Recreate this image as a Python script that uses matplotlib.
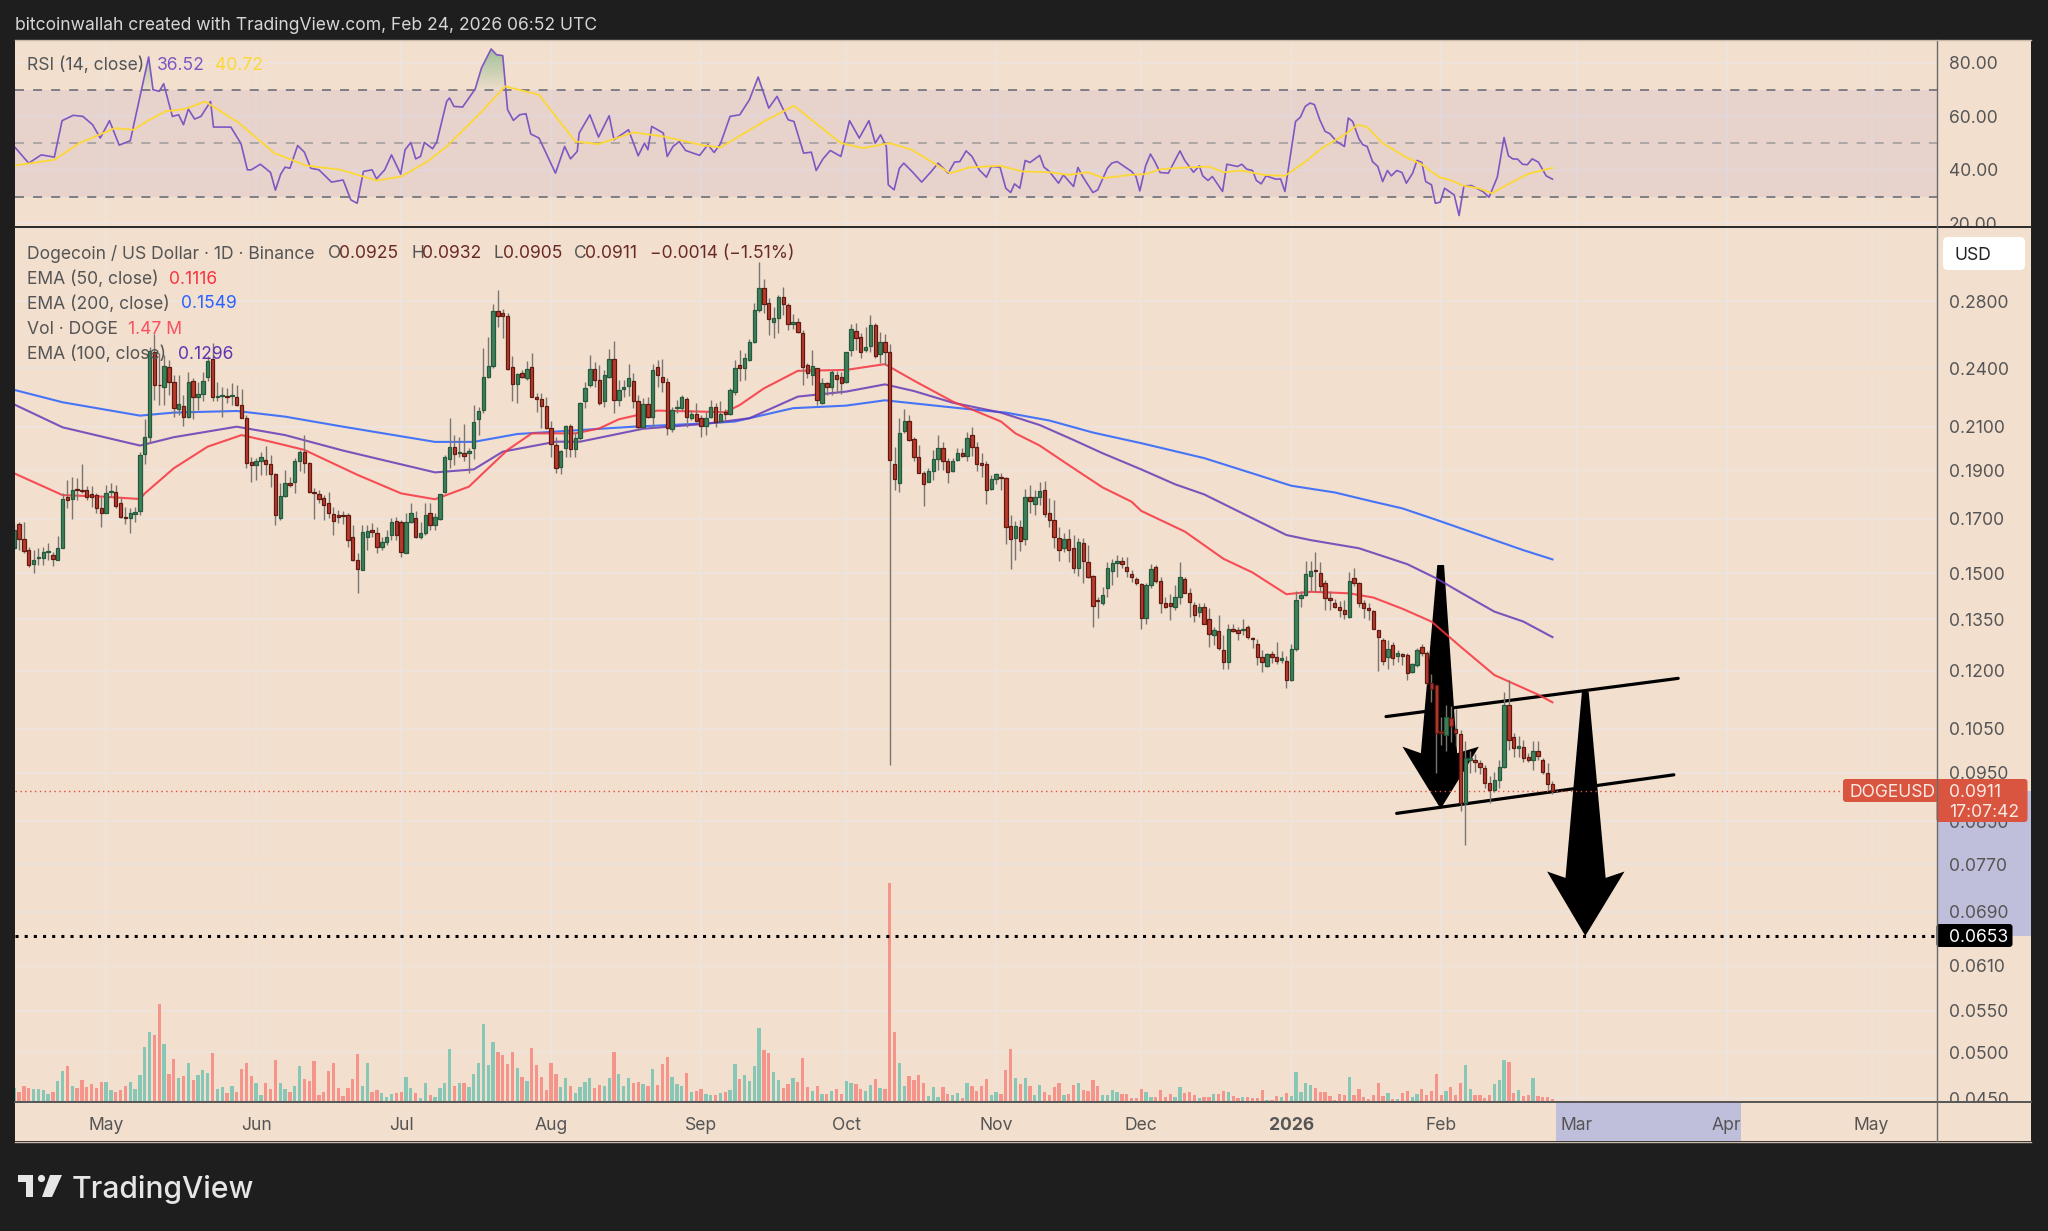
import matplotlib
matplotlib.use("Agg")
import numpy as np
from matplotlib import pyplot as plt
from matplotlib.path import Path
from matplotlib.patches import Rectangle, Polygon, FancyBboxPatch, Circle

W, H = 2048, 1231

# daily candles, index 0 = Apr 12 2025, index 318 = Feb 24 2026
opens = [
    .1589, .1680, .1622, .1582, .1532, .1553, .1555, .1574, .1563, .1548,
    .1591, .1786, .1778, .1818, .1814, .1815, .1798, .1794, .1741, .1724,
    .1809, .1807, .1764, .1708, .1702, .1717, .1729, .1971, .2052, .2495,
    .2313, .2298, .2408, .2325, .2189, .2201, .2146, .2333, .2247, .2264,
    .2352, .2454, .2247, .2252, .2254, .2252, .2249, .2205, .2140, .1935,
    .1923, .1943, .1946, .1926, .1884, .1704, .1793, .1847, .1849, .1939,
    .1982, .1932, .1809, .1799, .1782, .1761, .1718, .1715, .1715, .1715,
    .1632, .1547, .1512, .1632, .1657, .1644, .1595, .1613, .1638, .1692,
    .1689, .1573, .1689, .1702, .1632, .1644, .1721, .1676, .1699, .1809,
    .1949, .2006, .1976, .1976, .1975, .2001, .2136, .2181, .2356, .2413,
    .2740, .2724, .2707, .2408, .2318, .2374, .2347, .2408, .2250, .2236,
    .2201, .2092, .2014, .1913, .2000, .2103, .1997, .2045, .2230, .2309,
    .2396, .2338, .2228, .2352, .2451, .2233, .2287, .2307, .2334, .2225,
    .2097, .2212, .2149, .2407, .2354, .2325, .2087, .2191, .2191, .2236,
    .2144, .2164, .2140, .2105, .2149, .2196, .2126, .2174, .2161, .2276,
    .2417, .2405, .2447, .2552, .2745, .2885, .2787, .2673, .2695, .2826,
    .2774, .2660, .2672, .2606, .2417, .2362, .2400, .2219, .2320, .2302,
    .2363, .2352, .2329, .2501, .2614, .2578, .2505, .2529, .2654, .2482,
    .2553, .2492, .1926, .1847, .2079, .2130, .2043, .1959, .1890, .1851,
    .1895, .1952, .1999, .1939, .1898, .1946, .1976, .1964, .2058, .2006,
    .1931, .1926, .1820, .1861, .1872, .1865, .1671, .1625, .1667, .1624,
    .1786, .1757, .1788, .1817, .1721, .1695, .1628, .1591, .1622, .1589,
    .1519, .1609, .1541, .1491, .1411, .1400, .1452, .1509, .1537, .1544,
    .1523, .1499, .1480, .1465, .1353, .1460, .1521, .1474, .1400, .1400,
    .1390, .1422, .1480, .1433, .1395, .1374, .1388, .1350, .1302, .1315,
    .1258, .1223, .1319, .1316, .1317, .1326, .1293, .1275, .1238, .1213,
    .1246, .1238, .1230, .1228, .1174, .1262, .1418, .1426, .1491, .1511,
    .1500, .1466, .1419, .1400, .1390, .1380, .1358, .1485, .1466, .1403,
    .1384, .1377, .1316, .1286, .1237, .1274, .1242, .1245, .1245, .1195,
    .1216, .1266, .1249, .1166, .1160, .1044, .1036, .1077, .1050, .1038,
    .0885, .0978, .0978, .0972, .0960, .0928, .0913, .0934, .0963, .1110,
    .1030, .1005, .1007, .0985, .0978, .0998, .0978, .0949, .0925,
]
highs = [
    .1682, .1689, .1689, .1595, .1582, .1589, .1595, .1610, .1576, .1634,
    .1802, .1858, .1872, .1865, .1928, .1834, .1834, .1805, .1789, .1837,
    .1847, .1837, .1782, .1748, .1741, .1748, .1983, .2138, .2524, .2598,
    .2486, .2477, .2447, .2365, .2365, .2258, .2383, .2347, .2329, .2383,
    .2467, .2543, .2329, .2302, .2293, .2324, .2311, .2288, .2158, .1961,
    .1954, .1983, .2009, .1968, .1887, .1847, .1902, .1872, .1954, .1991,
    .2060, .1938, .1823, .1816, .1795, .1809, .1748, .1735, .1730, .1721,
    .1676, .1570, .1676, .1676, .1682, .1670, .1632, .1657, .1702, .1708,
    .1695, .1721, .1761, .1731, .1689, .1761, .1761, .1721, .1799, .1968,
    .2141, .2060, .2050, .2111, .1999, .2207, .2199, .2518, .2582, .2783,
    .2874, .2749, .2724, .2471, .2374, .2392, .2443, .2486, .2267, .2267,
    .2250, .2126, .2052, .1991, .2108, .2111, .2076, .2221, .2329, .2475,
    .2438, .2419, .2392, .2509, .2558, .2338, .2338, .2425, .2374, .2258,
    .2241, .2250, .2425, .2447, .2452, .2350, .2199, .2233, .2258, .2250,
    .2182, .2216, .2158, .2174, .2233, .2219, .2225, .2186, .2293, .2447,
    .2505, .2486, .2568, .2787, .3067, .2946, .2824, .2766, .2841, .2896,
    .2787, .2718, .2697, .2622, .2430, .2505, .2405, .2347, .2329, .2392,
    .2387, .2383, .2495, .2656, .2662, .2602, .2642, .2714, .2662, .2612,
    .2596, .2538, .2006, .2141, .2188, .2158, .2052, .2014, .1895, .1909,
    .1991, .2060, .2029, .1954, .1954, .1999, .1999, .2076, .2097, .2029,
    .1976, .1939, .1880, .1887, .1887, .1872, .1715, .1692, .1695, .1819,
    .1837, .1816, .1851, .1855, .1782, .1775, .1667, .1644, .1659, .1638,
    .1628, .1625, .1601, .1496, .1422, .1455, .1540, .1552, .1565, .1558,
    .1558, .1511, .1488, .1466, .1466, .1532, .1529, .1488, .1422, .1431,
    .1460, .1538, .1488, .1452, .1405, .1400, .1400, .1385, .1327, .1362,
    .1302, .1337, .1337, .1327, .1350, .1332, .1297, .1290, .1258, .1250,
    .1254, .1282, .1254, .1241, .1275, .1441, .1441, .1543, .1543, .1577,
    .1538, .1479, .1439, .1413, .1408, .1411, .1506, .1520, .1469, .1411,
    .1402, .1380, .1317, .1293, .1288, .1281, .1258, .1250, .1250, .1221,
    .1263, .1276, .1254, .1191, .1162, .1080, .1110, .1107, .1100, .1048,
    .1022, .0997, .0991, .0978, .0966, .0942, .0952, .0978, .1142, .1174,
    .1040, .1032, .1024, .0993, .1022, .1021, .0982, .0970, .0932,
]
lows = [
    .1582, .1582, .1570, .1523, .1500, .1529, .1529, .1547, .1525, .1545,
    .1589, .1744, .1699, .1775, .1802, .1775, .1748, .1721, .1667, .1721,
    .1789, .1741, .1702, .1680, .1644, .1689, .1715, .1926, .2021, .2233,
    .2207, .2207, .2258, .2146, .2158, .2105, .2141, .2138, .2183, .2225,
    .2334, .2225, .2225, .2146, .2216, .2207, .2203, .2140, .1909, .1851,
    .1858, .1880, .1880, .1830, .1676, .1695, .1789, .1830, .1802, .1895,
    .1887, .1802, .1699, .1761, .1695, .1702, .1638, .1682, .1680, .1595,
    .1544, .1433, .1510, .1582, .1632, .1570, .1582, .1601, .1619, .1619,
    .1559, .1570, .1682, .1626, .1622, .1638, .1657, .1657, .1695, .1802,
    .1912, .1923, .1961, .1943, .1887, .1949, .2060, .2169, .2347, .2400,
    .2642, .2576, .2392, .2225, .2216, .2347, .2338, .2247, .2174, .2092,
    .2087, .1961, .1887, .1884, .1961, .1961, .1961, .2037, .2191, .2302,
    .2302, .2207, .2196, .2347, .2166, .2203, .2250, .2254, .2191, .2084,
    .2092, .2141, .2092, .2302, .2276, .2060, .2076, .2166, .2182, .2100,
    .2133, .2125, .2050, .2060, .2141, .2100, .2118, .2126, .2158, .2258,
    .2333, .2338, .2441, .2543, .2730, .2724, .2594, .2576, .2606, .2714,
    .2622, .2628, .2602, .2311, .2347, .2311, .2207, .2212, .2258, .2258,
    .2276, .2262, .2320, .2467, .2505, .2457, .2495, .2495, .2457, .2430,
    .2419, .0966, .1816, .1809, .2068, .2034, .1940, .1887, .1752, .1848,
    .1858, .1902, .1902, .1847, .1893, .1939, .1958, .1943, .1964, .1898,
    .1870, .1757, .1816, .1841, .1816, .1605, .1515, .1547, .1580, .1601,
    .1721, .1715, .1755, .1708, .1670, .1589, .1544, .1576, .1540, .1502,
    .1491, .1466, .1483, .1327, .1353, .1395, .1422, .1460, .1486, .1517,
    .1486, .1471, .1460, .1319, .1337, .1452, .1466, .1369, .1385, .1348,
    .1380, .1397, .1433, .1358, .1343, .1358, .1335, .1268, .1273, .1258,
    .1204, .1204, .1312, .1286, .1302, .1291, .1265, .1216, .1197, .1209,
    .1221, .1219, .1221, .1154, .1172, .1254, .1388, .1424, .1441, .1436,
    .1436, .1378, .1380, .1385, .1356, .1350, .1355, .1457, .1390, .1353,
    .1348, .1319, .1200, .1216, .1204, .1216, .1225, .1216, .1174, .1193,
    .1211, .1241, .1164, .1118, .0949, .1013, .0997, .1019, .1010, .0869,
    .0805, .0949, .0952, .0947, .0916, .0886, .0909, .0916, .0960, .1001,
    .0985, .0985, .0974, .0974, .0956, .0978, .0946, .0912, .0905,
]
closes = [
    .1657, .1622, .1580, .1529, .1547, .1556, .1576, .1577, .1551, .1590,
    .1780, .1775, .1815, .1815, .1812, .1788, .1786, .1744, .1724, .1802,
    .1812, .1752, .1708, .1705, .1721, .1728, .1970, .2051, .2496, .2311,
    .2309, .2412, .2325, .2191, .2211, .2146, .2329, .2247, .2262, .2333,
    .2440, .2250, .2250, .2256, .2250, .2260, .2208, .2141, .1934, .1923,
    .1943, .1958, .1926, .1885, .1716, .1793, .1845, .1837, .1940, .1982,
    .1934, .1809, .1803, .1779, .1753, .1721, .1692, .1708, .1712, .1619,
    .1547, .1514, .1650, .1654, .1651, .1595, .1613, .1632, .1689, .1638,
    .1574, .1686, .1721, .1632, .1644, .1715, .1676, .1708, .1799, .1961,
    .2006, .1972, .1980, .1964, .1985, .2122, .2179, .2356, .2412, .2740,
    .2709, .2709, .2396, .2318, .2372, .2356, .2396, .2250, .2240, .2204,
    .2094, .2017, .1912, .1985, .2105, .1997, .2045, .2216, .2297, .2398,
    .2338, .2219, .2365, .2451, .2233, .2285, .2299, .2347, .2230, .2097,
    .2212, .2149, .2392, .2365, .2325, .2094, .2182, .2196, .2247, .2149,
    .2161, .2130, .2103, .2141, .2197, .2122, .2164, .2161, .2285, .2405,
    .2405, .2457, .2548, .2745, .2885, .2780, .2687, .2692, .2826, .2783,
    .2658, .2672, .2612, .2410, .2374, .2413, .2233, .2323, .2302, .2378,
    .2342, .2323, .2490, .2628, .2576, .2495, .2520, .2654, .2467, .2551,
    .2493, .1945, .1862, .2071, .2130, .2039, .1961, .1890, .1840, .1895,
    .1952, .2000, .1939, .1893, .1943, .1976, .1964, .2047, .2006, .1926,
    .1925, .1816, .1861, .1883, .1868, .1670, .1624, .1671, .1617, .1786,
    .1769, .1786, .1812, .1718, .1696, .1632, .1584, .1622, .1582, .1519,
    .1613, .1543, .1486, .1393, .1408, .1428, .1517, .1537, .1544, .1532,
    .1509, .1488, .1466, .1355, .1460, .1514, .1474, .1400, .1390, .1392,
    .1422, .1486, .1435, .1405, .1364, .1388, .1337, .1304, .1317, .1263,
    .1223, .1319, .1315, .1309, .1319, .1295, .1290, .1238, .1224, .1246,
    .1238, .1228, .1233, .1174, .1260, .1411, .1426, .1497, .1509, .1508,
    .1458, .1419, .1412, .1390, .1380, .1365, .1475, .1466, .1403, .1384,
    .1378, .1320, .1295, .1228, .1260, .1234, .1250, .1242, .1193, .1219,
    .1258, .1249, .1166, .1150, .1040, .1041, .1078, .1058, .1040, .0885,
    .0982, .0981, .0974, .0961, .0928, .0912, .0934, .0963, .1110, .1024,
    .1005, .1007, .0983, .0978, .0997, .0987, .0952, .0925, .0911,
]
volumes = [
    40, 27, 44, 39, 35, 36, 32, 21, 28, 60, 90, 105, 44, 39, 63, 42, 51, 39, 57, 57,
    33, 28, 33, 45, 57, 35, 78, 162, 206, 198, 292, 170, 81, 126, 69, 75, 114, 63, 78, 93,
    84, 144, 36, 42, 24, 45, 27, 96, 113, 75, 54, 18, 53, 36, 123, 53, 35, 27, 44, 104,
    66, 61, 120, 18, 27, 90, 113, 39, 16, 39, 66, 141, 45, 113, 27, 33, 24, 11, 21, 24,
    28, 72, 39, 24, 9, 54, 18, 12, 39, 54, 155, 45, 54, 54, 42, 81, 114, 230, 108, 177,
    147, 138, 111, 146, 99, 72, 60, 158, 108, 71, 33, 114, 81, 42, 69, 45, 24, 42, 57, 69,
    39, 48, 45, 69, 146, 81, 45, 69, 54, 57, 51, 44, 96, 48, 112, 132, 72, 51, 44, 84,
    28, 29, 36, 21, 17, 18, 24, 26, 33, 110, 66, 78, 60, 104, 218, 153, 144, 87, 63, 39,
    51, 69, 57, 130, 42, 30, 45, 21, 21, 30, 36, 21, 59, 54, 51, 36, 30, 48, 66, 39,
    35, 654, 207, 113, 44, 75, 63, 79, 53, 15, 42, 12, 42, 21, 17, 24, 9, 54, 45, 30,
    45, 66, 18, 26, 20, 93, 156, 69, 51, 69, 44, 18, 47, 27, 17, 42, 53, 18, 22, 48,
    53, 33, 30, 63, 45, 17, 18, 33, 27, 21, 21, 10, 9, 35, 27, 12, 11, 33, 12, 21,
    12, 42, 24, 27, 18, 9, 11, 12, 21, 21, 29, 27, 15, 9, 12, 11, 9, 10, 33, 3,
    3, 15, 11, 24, 15, 86, 28, 54, 48, 39, 27, 27, 15, 3, 21, 17, 71, 19, 35, 12,
    6, 18, 54, 15, 24, 6, 6, 24, 29, 12, 21, 36, 18, 30, 80, 18, 30, 42, 18, 55,
    108, 37, 18, 18, 9, 19, 51, 63, 123, 117, 24, 33, 15, 18, 69, 15, 11, 12, 6,
]

# moving averages read at their bends
ema50_days = [0, 10, 18, 26, 27, 33, 40, 47, 53, 60, 71, 80, 87, 94, 98, 102, 107, 116, 121, 125, 133,
              147, 150, 155, 162, 172, 180, 186, 194, 204, 207, 212, 219, 225, 231, 233, 242, 250, 256,
              263, 268, 276, 281, 287, 293, 299, 306, 315, 318]
ema50_vals = [.1887, .1795, .1789, .1779, .1802, .1909, .2006, .2060, .2029, .1991, .1880, .1802, .1778,
              .1830, .1909, .1991, .2068, .2068, .2092, .2136, .2179, .2171, .2207, .2293, .2387, .2392,
              .2424, .2334, .2225, .2125, .2068, .2011, .1909, .1827, .1768, .1731, .1651, .1551, .1503,
              .1430, .1438, .1433, .1419, .1383, .1343, .1268, .1188, .1136, .1116]
ema100_days = [0, 10, 26, 33, 46, 56, 68, 87, 95, 101, 112, 117, 130, 143, 152, 162, 172, 180, 186, 194,
               204, 212, 219, 225, 233, 240, 246, 256, 263, 268, 278, 288, 294, 299, 306, 312, 318]
ema100_vals = [.2210, .2097, .2011, .2050, .2100, .2060, .1988, .1891, .1904, .1983, .2029, .2029, .2090,
               .2114, .2141, .2250, .2276, .2314, .2279, .2219, .2169, .2108, .2037, .1976, .1904, .1840,
               .1798, .1702, .1638, .1619, .1589, .1532, .1483, .1436, .1374, .1343, .1296]
ema200_days = [0, 10, 26, 33, 46, 56, 68, 87, 95, 104, 128, 143, 149, 161, 172, 180, 197, 205, 214, 223,
               233, 246, 257, 264, 273, 281, 287, 294, 312, 318]
ema200_vals = [.2285, .2221, .2154, .2169, .2177, .2149, .2100, .2028, .2028, .2065, .2100, .2116, .2125,
               .2191, .2204, .2231, .2187, .2169, .2130, .2072, .2022, .1954, .1880, .1834, .1806, .1768,
               .1741, .1696, .1582, .1549]

rsi_days = [0, 3, 5.6, 8.3, 9.9, 12.2, 14.2, 16.2, 17.8, 19.7, 21.7, 24, 26, 27.8, 28.7, 30, 30.9, 32.7, 34,
            35, 36, 37.3, 38.6, 40.6, 41.2, 44.8, 46.9, 48.2, 49, 50.9, 53, 54, 55.1, 56, 57, 58.6, 60,
            61.3, 63, 65.6, 68, 69.6, 70.9, 72.2, 74, 74.9, 76.6, 78, 79.9, 80.8, 82, 83, 84, 84.8, 86.5,
            87.4, 89.4, 90, 90.9, 92.7, 95.3, 96.6, 98.6, 99.7, 101, 102, 103.2, 104.5, 105.8, 106.8,
            108.5, 109.8, 111.9, 113.8, 115, 116.4, 116.8, 119, 120.8, 123, 124, 127, 129, 130.3, 131,
            131.8, 134.2, 135, 136.2, 137.5, 138.8, 141.7, 143.4, 144.7, 146, 148, 150, 152, 153.8, 156,
            157.7, 160, 161.2, 163.2, 164.8, 165.8, 167.2, 168.7, 170.9, 172.7, 174.7, 176.7, 178, 179.1,
            180.3, 180.7, 181.9, 183, 183.9, 185.6, 187.6, 189.6, 191, 193.1, 194.4, 195.5, 196.8, 198,
            199.5, 201, 202, 203.8, 205, 206, 206.8, 207.9, 209, 210, 212, 212.9, 214, 215.9, 216.9, 219,
            219.9, 220.8, 223, 224, 226, 226.9, 228, 231, 231.9, 232.7, 233.9, 234.9, 235.8, 236.9, 238.6,
            241, 242, 243.8, 245, 245.7, 246.8, 247.7, 249.8, 250.7, 252.9, 253.8, 254.8, 256, 256.8,
            257.8, 258.8, 260.8, 261.8, 262.7, 264, 264.9, 265.9, 266.9, 267.9, 268.8, 269.9, 271, 272,
            273.4, 275, 275.8, 276.7, 278, 278.8, 279.7, 280.8, 281.9, 282.9, 283.9, 284.7, 285.8, 286.9,
            287.8, 289.1, 290, 291, 291.8, 293, 293.8, 294.8, 295.7, 297.7, 298.7, 299.7, 301.3, 303.6,
            304.9, 306.6, 308, 308.9, 309.8, 310.8, 311.8, 312.8, 313.8, 315.1, 316.7, 318]
rsi_vals = [48.75, 42.5, 45.6, 44.75, 58.4, 60.4, 60, 56.9, 51.9, 58.4, 49.25, 50.9, 67.5, 82.25, 70, 69.4,
            72.25, 60, 60.6, 56.9, 62.75, 59, 60, 65.6, 56, 56, 49.75, 40, 40, 42.1, 39, 32.4, 38.4, 41,
            40.6, 49.1, 46.6, 40.6, 40, 35.4, 36.2, 28.75, 27.5, 39.4, 40, 36.6, 40, 45.6, 38.4, 47.5,
            50.25, 44.1, 45, 50.25, 47.9, 50.6, 65.6, 66.9, 63.75, 63.5, 70.25, 78.1, 85.25, 83.1, 82.75,
            62.5, 58.5, 60.6, 61, 53.4, 51.9, 46.9, 38.75, 48.75, 44.1, 46.9, 53.75, 60.6, 52.25, 60.25,
            51.25, 55, 45.25, 50, 47.5, 56.25, 53.75, 45, 48.75, 50.6, 47.25, 45.4, 49.4, 46.5, 49.75, 60,
            60.6, 66.25, 74.75, 63.1, 67.5, 58.75, 58.1, 46.25, 46.6, 39.75, 44.1, 47.25, 45, 58.4, 51.9,
            58.4, 50, 53.1, 48.75, 34.4, 32.5, 40.6, 42.5, 39.4, 35.4, 39.4, 42.5, 38.75, 42.9, 43.1, 47.1,
            45, 40, 37.25, 41.25, 41, 33.1, 31.5, 34.75, 33.1, 43.5, 42.75, 45.4, 41, 39.4, 35, 38.1, 33.75,
            40.9, 37.75, 31.5, 32.5, 40.6, 42.5, 43.1, 39.4, 37.5, 32.1, 41.5, 45.9, 43.1, 39, 38.75, 47.1,
            43.5, 39.1, 41.5, 37.75, 36, 37.5, 31.9, 42.1, 41.25, 42.1, 40.25, 39.75, 36, 34.75, 37.75,
            36.5, 36.6, 31.9, 47.5, 58.1, 59.75, 63.75, 65, 64.4, 58.75, 54.4, 53.5, 50.6, 48.75, 59.4,
            58.1, 51.6, 49.4, 48.75, 43.1, 41.25, 35.6, 39.75, 37.75, 39.75, 39, 35, 38.75, 43.5, 42.75,
            35.6, 34.4, 27.5, 27.9, 33.1, 30.6, 22.9, 34, 34.1, 31.9, 29.75, 37.25, 52.1, 45.25, 44.1, 44,
            42.1, 41.9, 44.1, 42.9, 37.75, 36.52]
rsi_ma_days = [0, 8.3, 13.5, 20.8, 24.7, 28, 31.3, 35.3, 39.5, 46.5, 53.8, 60.4, 67.6, 74.9, 80, 85.4, 89.4,
               96, 101.5, 108.5, 116, 120.8, 128, 134.2, 142.6, 146, 155, 161.2, 170.9, 175.5, 181, 185.6,
               193.5, 197.5, 203.8, 208.5, 214, 218, 222, 225.2, 230.7, 233.9, 237, 242.6, 247, 250, 253.6,
               258.4, 262.7, 267, 270.3, 275, 277.8, 279.7, 282.9, 287.7, 290.8, 294.8, 296.8, 299.5, 302.7,
               305.5, 309, 313, 318]
rsi_ma_vals = [41.6, 43.75, 50, 55.6, 55, 58.75, 61.9, 62.75, 65.6, 57.5, 46.25, 41.6, 40, 36, 37.5, 43.1,
               48.75, 60.6, 71.25, 68.1, 50.6, 49.6, 54, 52.5, 49.1, 48.4, 58.1, 64, 50, 48.1, 50, 47.5,
               38.75, 40.9, 41.5, 39.4, 39.1, 38.1, 39.1, 36.9, 38.1, 38.4, 40.25, 40.9, 41.25, 39.1, 39.75,
               38.1, 37.75, 43.1, 48.1, 53.1, 56.9, 56, 50, 44.75, 42.25, 37.1, 36.25, 34.1, 33.1, 31.25,
               34.75, 38.5, 40.72]

# axis ticks
month_days = [19, 50, 80, 111, 142, 172, 203, 233, 264, 295, 323, 354, 384]
month_labels = ["May", "Jun", "Jul", "Aug", "Sep", "Oct", "Nov", "Dec", "2026", "Feb", "Mar", "Apr", "May"]
price_ticks = [.28, .24, .21, .19, .17, .15, .135, .12, .105, .095, .085, .077, .069, .061, .055, .05, .045]
rsi_ticks = [80, 60, 40, 20]

# drawings on the chart
upper_line_days, upper_line_prices = [283.6, 344], [.1080, .1179]
lower_line_days, lower_line_prices = [285.8, 343.1], [.0865, .0945]
arrow1_days = [294.2, 295.6, 298.3, 302.8, 294.9, 287, 290.8]
arrow1_prices = [.1529, .1529, .0993, .1008, .0874, .1008, .0993]
arrow2_days = [324.1, 325.5, 329, 332.9, 324.8, 316.9, 320.7]
arrow2_prices = [.1143, .1143, .0746, .0757, .0653, .0757, .0746]
last_price = 0.0911
target_price = 0.0653

BG = "#1e1e1e"
PANEL = "#f2dfce"
GRID = "#ece5df"
TXT = "#555555"
UP, UP_EDGE = "#3f8059", "#245a3d"
DOWN, DOWN_EDGE = "#b93b2c", "#611a12"
WICK = "#7a7570"
SHADE = "#bfbfdb"
FONT_SIZE = 12.6

plt.rcParams["font.family"] = ["Inter", "DejaVu Sans"]

fig = plt.figure(figsize=(W / 100, H / 100), dpi=100, facecolor=BG)


def add_ax(x0, y0, x1, y1, **kw):
    return fig.add_axes([x0 / W, 1 - y1 / H, (x1 - x0) / W, (y1 - y0) / H], facecolor=PANEL, **kw)


LEFT, AXIS_X, RIGHT = 15.3, 1936.5, 2031
ax_rsi = add_ax(LEFT, 40, AXIS_X, 227)
ax_main = add_ax(LEFT, 227, AXIS_X, 1101)
ax_time = add_ax(LEFT, 1101, AXIS_X, 1141)
ax_rsi_price = add_ax(AXIS_X, 40, RIGHT, 227)
ax_price = add_ax(AXIS_X, 227, RIGHT, 1101)
ax_corner = add_ax(AXIS_X, 1101, RIGHT, 1141)

xlim = (0.23, 397.4)
ylim = (.04472, .3320)
rsi_lim = (18.6, 88.6)
days = np.arange(len(closes))

# rsi panel
ax_rsi.set_xlim(xlim)
ax_rsi.set_ylim(rsi_lim)
ax_rsi.axhspan(30, 70, color="#7e57c2", alpha=0.09, lw=0)
ax_rsi.set_xticks(month_days)
ax_rsi.set_yticks(rsi_ticks)
ax_rsi.grid(True, color=GRID, lw=1.1)
ax_rsi.set_axisbelow(True)
ax_rsi.tick_params(length=0, labelbottom=False, labelleft=False)
ax_rsi.axhline(70, color="#77777f", lw=1.3, ls=(0, (5, 5)))
ax_rsi.axhline(50, color="#a8a3a3", lw=1.3, ls=(0, (5, 5)))
ax_rsi.axhline(30, color="#77777f", lw=1.3, ls=(0, (5, 5)))
rsi_x = np.array(rsi_days)
rsi_y = np.array(rsi_vals)
# overbought area, green at the top and fading down to the 70 line
over = ax_rsi.fill_between(rsi_x, rsi_y, 70, where=rsi_y >= 70, interpolate=True, alpha=0, lw=0)
fade = np.zeros((64, 1, 4))
fade[..., :3] = matplotlib.colors.to_rgb("#7fb57f")
fade[..., 3] = np.linspace(0.85, 0.05, 64)[:, None]
im = ax_rsi.imshow(fade, extent=(xlim[0], xlim[1], 70, rsi_lim[1]), origin="upper", aspect="auto", zorder=2)
im.set_clip_path(Path.make_compound_path(*over.get_paths()), transform=ax_rsi.transData)
ax_rsi.set_xlim(xlim)
ax_rsi.set_ylim(rsi_lim)
ax_rsi.plot(rsi_days, rsi_vals, color="#7e57c2", lw=1.2, zorder=3)
ax_rsi.plot(rsi_ma_days, rsi_ma_vals, color="#fdd835", lw=1.3, zorder=3)

# main panel
ax_main.set_yscale("log")
ax_main.set_xlim(xlim)
ax_main.set_ylim(ylim)
ax_main.set_xticks(month_days)
ax_main.set_yticks(price_ticks)
ax_main.minorticks_off()
ax_main.grid(True, color=GRID, lw=1.1)
ax_main.set_axisbelow(True)
ax_main.tick_params(length=0, labelbottom=False, labelleft=False)

# volume on its own linear scale, sharing the panel
ax_vol = fig.add_axes(ax_main.get_position(), facecolor="none")
ax_vol.set_xlim(xlim)
ax_vol.set_ylim(0, 2622)
ax_vol.axis("off")
o = np.array(opens)
c = np.array(closes)
is_up = c >= o
vol_colors = np.where(is_up, "#88c6b6", "#f4948b")
ax_vol.bar(days, volumes, width=0.68, color=vol_colors, lw=0)

ax_top = fig.add_axes(ax_main.get_position(), facecolor="none")
ax_top.set_yscale("log")
ax_top.set_xlim(xlim)
ax_top.set_ylim(ylim)
ax_top.axis("off")

# the big arrows sit under the moving averages and candles
ax_top.add_patch(Polygon(np.column_stack([arrow1_days, arrow1_prices]), closed=True, color="black", lw=0, zorder=1))
ax_top.add_patch(Polygon(np.column_stack([arrow2_days, arrow2_prices]), closed=True, color="black", lw=0, zorder=1))
ax_top.plot(upper_line_days, upper_line_prices, color="black", lw=2.3, solid_capstyle="round", zorder=1)
ax_top.plot(lower_line_days, lower_line_prices, color="black", lw=2.3, solid_capstyle="round", zorder=1)

ax_top.plot(ema200_days, ema200_vals, color="#2962ff", lw=1.5, alpha=0.85, zorder=2)
ax_top.plot(ema100_days, ema100_vals, color="#673ab7", lw=1.5, alpha=0.85, zorder=2)
ax_top.plot(ema50_days, ema50_vals, color="#f7343f", lw=1.5, alpha=0.85, zorder=2)
ax_top.vlines(days, lows, highs, color=WICK, lw=1.0, zorder=3)
body_bottom = np.minimum(o, c)
body_height = np.maximum(np.abs(c - o), 0.0004)
ax_top.bar(days[is_up], body_height[is_up], bottom=body_bottom[is_up], width=0.7,
           color=UP, edgecolor=UP_EDGE, lw=0.9, zorder=4)
ax_top.bar(days[~is_up], body_height[~is_up], bottom=body_bottom[~is_up], width=0.7,
           color=DOWN, edgecolor=DOWN_EDGE, lw=0.9, zorder=4)

ax_top.axhline(last_price, color="#e04f3d", lw=1.0, ls=(0, (1, 2.5)), zorder=3)
ax_top.axhline(target_price, color="black", lw=2.2, ls=(0, (1, 2)), zorder=5)

# time strip
ax_time.set_xlim(xlim)
ax_time.set_ylim(0, 1)
ax_time.set_xticks([])
ax_time.set_yticks([])
ax_time.axvspan(318.8, 356.9, color=SHADE, lw=0)
for day, label_text in zip(month_days, month_labels):
    ax_time.text(day, 0.44, label_text, ha="center", va="center_baseline", fontsize=FONT_SIZE, color=TXT,
                 fontweight="bold" if label_text == "2026" else "normal")

# price strips
ax_price.set_yscale("log")
ax_price.set_ylim(ylim)
ax_price.set_xlim(0, 1)
ax_price.set_xticks([])
ax_price.minorticks_off()
ax_price.set_yticks([])
ax_price.axhspan(target_price, last_price, color=SHADE, lw=0)
for p in price_ticks:
    ax_price.text(0.13, p, f"{p:.4f}", va="center_baseline", ha="left", fontsize=FONT_SIZE, color=TXT, clip_on=True)

ax_rsi_price.set_ylim(rsi_lim)
ax_rsi_price.set_xlim(0, 1)
ax_rsi_price.set_xticks([])
ax_rsi_price.set_yticks([])
for r in rsi_ticks:
    ax_rsi_price.text(0.13, r, f"{r:.2f}", va="center_baseline", ha="left", fontsize=FONT_SIZE, color=TXT, clip_on=True)

ax_corner.set_xticks([])
ax_corner.set_yticks([])

for ax in [ax_rsi, ax_main, ax_time, ax_rsi_price, ax_price, ax_corner]:
    for s in ax.spines.values():
        s.set_visible(False)

# overlay in picture pixels for legends, badges and footer
ov = fig.add_axes([0, 0, 1, 1], facecolor="none", zorder=20)
ov.set_xlim(0, W)
ov.set_ylim(H, 0)
ov.axis("off")

ov.plot([LEFT, RIGHT], [227, 227], color="#2b2b2b", lw=1.4)
ov.plot([LEFT, RIGHT], [1101.5, 1101.5], color="#555555", lw=1.4)
ov.plot([AXIS_X, AXIS_X], [40, 1141], color="#6b6b6b", lw=1.0)
ov.plot([LEFT, RIGHT], [40, 40], color="#c9b9a8", lw=1.0)
ov.plot([LEFT, RIGHT], [1141.5, 1141.5], color="#c9b9a8", lw=1.0)


def label(x, y, s, color=TXT, size=FONT_SIZE, **kw):
    ov.text(x, y, s, color=color, fontsize=size, va="center_baseline", ha=kw.pop("ha", "left"), **kw)


label(15, 24, "bitcoinwallah created with TradingView.com, Feb 24, 2026 06:52 UTC", color="#d6d6d6")

label(27, 63, "RSI (14, close)")
label(157, 63, "36.52", color="#7e57c2")
label(215.5, 63, "40.72", color="#fdd835")

DARK_RED = "#6a2a24"
label(27, 252, "Dogecoin / US Dollar · 1D · Binance")
for x_tag, tag, x_val, val in [(328, "O", 339, "0.0925"), (411.5, "H", 422, "0.0932"),
                               (493.5, "L", 503, "0.0905"), (574, "C", 585, "0.0911")]:
    label(x_tag, 252, tag)
    label(x_val, 252, val, color=DARK_RED)
label(650, 252, "−0.0014 (−1.51%)", color=DARK_RED)

label(27, 277, "EMA (50, close)")
label(169, 277, "0.1116", color="#f7343f")
label(27, 302, "EMA (200, close)")
label(181, 302, "0.1549", color="#2962ff")
label(27, 327, "Vol · DOGE")
label(128, 327, "1.47 M", color="#f7525f")
label(27, 352.5, "EMA (100, close)")
label(178, 352.5, "0.1296", color="#5e35b1")

# USD button
ov.add_patch(FancyBboxPatch((1943, 237), 82, 33, boxstyle="round,pad=0,rounding_size=5", color="white", lw=0))
label(1955, 253.5, "USD", color="#222222")

# last price badges
RED_BADGE = "#d9553f"
ov.add_patch(FancyBboxPatch((1843, 779), 100, 23, boxstyle="round,pad=0,rounding_size=3", color=RED_BADGE, lw=0))
ov.add_patch(FancyBboxPatch((1936.5, 779), 91, 43, boxstyle="round,pad=0,rounding_size=3", color=RED_BADGE, lw=0))
label(1849.5, 790.5, "DOGEUSD", color="#fbe9e4")
label(1949, 790.5, "0.0911", color="#fbe9e4")
label(1949, 810.5, "17:07:42", color="#fbe9e4")

ov.add_patch(FancyBboxPatch((1936.5, 924), 76, 23, boxstyle="round,pad=0,rounding_size=3", color="black", lw=0))
label(1949, 935.5, "0.0653", color="white")

# footer logo
LOGO = "#e6e6e6"
ov.add_patch(Rectangle((18, 1175), 15, 7, color=LOGO, lw=0))
ov.add_patch(Rectangle((26, 1175), 7, 22, color=LOGO, lw=0))
ov.add_patch(Circle((41.5, 1178.5), 3.6, color=LOGO, lw=0))
ov.add_patch(Polygon([[50, 1175], [62, 1175], [52, 1197], [42, 1197]], closed=True, color=LOGO, lw=0))
label(72, 1186, "TradingView", color=LOGO, size=21.6, fontweight="medium")

fig.savefig("out.png", dpi=100, facecolor=BG)
